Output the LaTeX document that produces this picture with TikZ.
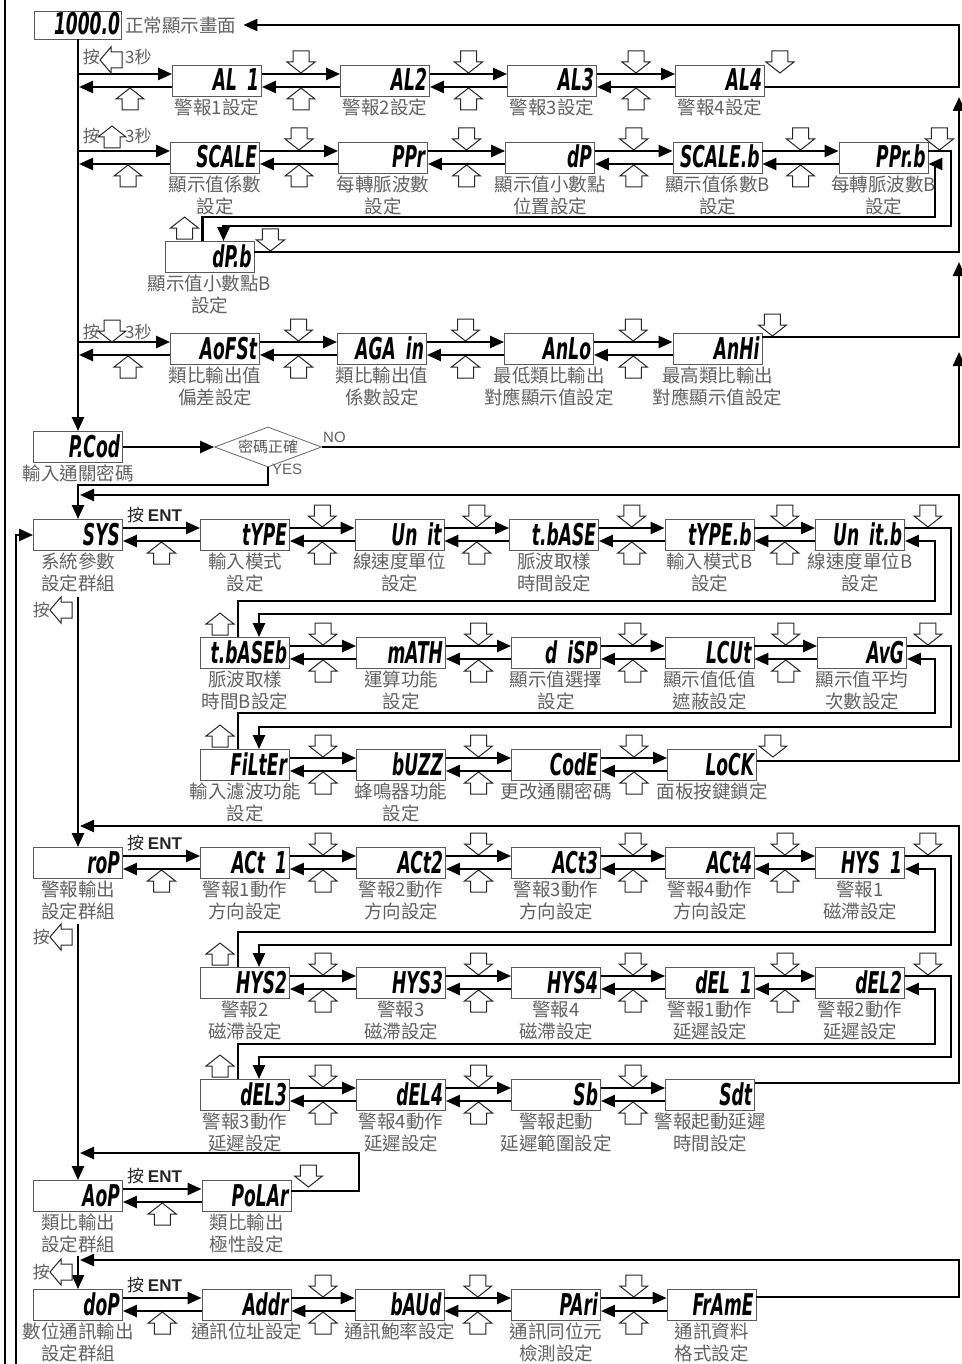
\documentclass[tikz,border=0pt]{standalone}
\usepackage{fontspec}
\setmainfont{Liberation Sans}
\newfontfamily\cjk{Noto Sans CJK TC}
\newfontfamily\lcd{DejaVu Sans}[FakeStretch=0.57]
\usetikzlibrary{arrows.meta,positioning,shapes.geometric}

\begin{document}
\begin{tikzpicture}[x=1pt, y=-1pt,
    disp/.style={draw=black!65, line width=0.9pt, fill=white, minimum width=89pt, minimum height=31pt,
      inner sep=0pt, text width=84pt, text height=20pt, text depth=0pt, align=right,
      font=\lcd\bfseries\itshape\fontsize{30}{30}\selectfont},
    lbl/.style={font=\cjk\fontsize{18.5}{22}\selectfont, text=black!62, inner sep=0pt, align=center},
    hint/.style={font=\cjk\fontsize{17}{17}\selectfont, text=black!62, inner sep=0pt},
    arr/.style={-{Triangle[length=14pt,width=12pt]}, line width=2.4pt},
    wire/.style={line width=2.4pt},
    keyshape/.style={draw=black!85, line width=1pt, fill=white, line join=miter},
    dnkey/.pic={\draw[keyshape] (-8,-22) -- (8,-22) -- (8,-11) -- (14,-11) -- (0,0) -- (-14,-11) -- (-8,-11) -- cycle;},
    upkey/.pic={\draw[keyshape] (-8,22) -- (8,22) -- (8,11) -- (14,11) -- (0,0) -- (-14,11) -- (-8,11) -- cycle;},
    ltkey/.pic={\draw[keyshape] (22,-8) -- (22,8) -- (11,8) -- (11,13) -- (0,0) -- (11,-13) -- (11,-8) -- cycle;},
  ]
  \useasboundingbox (0,0) rectangle (961,1364);

  % normal display, password check
  \node[disp, minimum width=87pt, minimum height=28pt] (main) at (78,25) {1000.0};
  \node[lbl, anchor=west] (mainlbl) at (125,25) {正常顯示畫面};
  \node[disp] (PCod) at (78,447) {P.Cod};
  \node[lbl, below=2pt of PCod] {輸入通關密碼};
  \node[draw=black!60, line width=0.8pt, diamond, aspect=2.7, minimum width=107pt, minimum height=40pt,
    inner sep=0pt, font=\cjk\fontsize{15}{15}\selectfont, text=black!65] (chk) at (268,447) {密碼正確};
  \node[hint, font=\fontsize{15}{15}\selectfont, anchor=south west] at (323,443) {NO};
  \node[hint, font=\fontsize{15}{15}\selectfont, anchor=north west] at (272,464) {YES};

  % alarm values
  \node[disp] (AL1) at (217,81) {AL 1};
  \node[disp] (AL2) at (385,81) {AL2};
  \node[disp] (AL3) at (552,81) {AL3};
  \node[disp] (AL4) at (720,81) {AL4};
  \node[lbl, below=2pt of AL1] {警報1設定};
  \node[lbl, below=2pt of AL2] {警報2設定};
  \node[lbl, below=2pt of AL3] {警報3設定};
  \node[lbl, below=2pt of AL4] {警報4設定};

  % scaling
  \node[disp] (SCALE) at (215,158) {SCALE};
  \node[disp] (PPr) at (383,158) {PPr};
  \node[disp] (dP) at (550,158) {dP};
  \node[disp] (SCALEb) at (717.5,158) {SCALE.b};
  \node[disp] (PPrb) at (883.5,158) {PPr.b};
  \node[disp] (dPb) at (209.5,257) {dP.b};
  \node[lbl, below=2pt of SCALE] {顯示值係數\\設定};
  \node[lbl, below=2pt of PPr] {每轉脈波數\\設定};
  \node[lbl, below=2pt of dP] {顯示值小數點\\位置設定};
  \node[lbl, below=2pt of SCALEb] {顯示值係數B\\設定};
  \node[lbl, below=2pt of PPrb] {每轉脈波數B\\設定};
  \node[lbl, below=2pt of dPb] {顯示值小數點B\\設定};

  % analog output
  \node[disp] (AoFSt) at (215,349) {AoFSt};
  \node[disp] (AGAin) at (382,349) {AGA in};
  \node[disp] (AnLo) at (549,349) {AnLo};
  \node[disp] (AnHi) at (717.5,349) {AnHi};
  \node[lbl, below=2pt of AoFSt] {類比輸出值\\偏差設定};
  \node[lbl, below=2pt of AGAin] {類比輸出值\\係數設定};
  \node[lbl, below=2pt of AnLo] {最低類比輸出\\對應顯示值設定};
  \node[lbl, below=2pt of AnHi] {最高類比輸出\\對應顯示值設定};

  % system group
  \node[disp] (SYS) at (78,535) {SYS};
  \node[disp] (tYPE) at (245,535) {tYPE};
  \node[disp] (Unit) at (399.5,535) {Un it};
  \node[disp] (tBASE) at (554,535) {t.bASE};
  \node[disp] (tYPEb) at (709.5,535) {tYPE.b};
  \node[disp] (Unitb) at (860,535) {Un it.b};
  \node[lbl, below=2pt of SYS] {系統參數\\設定群組};
  \node[lbl, below=2pt of tYPE] {輸入模式\\設定};
  \node[lbl, below=2pt of Unit] {線速度單位\\設定};
  \node[lbl, below=2pt of tBASE] {脈波取樣\\時間設定};
  \node[lbl, below=2pt of tYPEb] {輸入模式B\\設定};
  \node[lbl, below=2pt of Unitb] {線速度單位B\\設定};

  \node[disp] (tBASEb) at (245,653) {t.bASEb};
  \node[disp] (mATH) at (401,653) {mATH};
  \node[disp] (dISP) at (556,653) {d iSP};
  \node[disp] (LCUt) at (709.5,653) {LCUt};
  \node[disp] (AvG) at (862,653) {AvG};
  \node[lbl, below=2pt of tBASEb] {脈波取樣\\時間B設定};
  \node[lbl, below=2pt of mATH] {運算功能\\設定};
  \node[lbl, below=2pt of dISP] {顯示值選擇\\設定};
  \node[lbl, below=2pt of LCUt] {顯示值低值\\遮蔽設定};
  \node[lbl, below=2pt of AvG] {顯示值平均\\次數設定};

  \node[disp] (FiLtEr) at (245,765) {FiLtEr};
  \node[disp] (bUZZ) at (401,765) {bUZZ};
  \node[disp] (CodE) at (556,765) {CodE};
  \node[disp] (LoCK) at (712,765) {LoCK};
  \node[lbl, below=2pt of FiLtEr] {輸入濾波功能\\設定};
  \node[lbl, below=2pt of bUZZ] {蜂鳴器功能\\設定};
  \node[lbl, below=2pt of CodE] {更改通關密碼};
  \node[lbl, below=2pt of LoCK] {面板按鍵鎖定};

  % relay output group
  \node[disp] (roP) at (78,863) {roP};
  \node[disp] (ACt1) at (245,863) {ACt 1};
  \node[disp] (ACt2) at (401,863) {ACt2};
  \node[disp] (ACt3) at (556,863) {ACt3};
  \node[disp] (ACt4) at (710,863) {ACt4};
  \node[disp] (HYS1) at (860,863) {HYS 1};
  \node[lbl, below=2pt of roP] {警報輸出\\設定群組};
  \node[lbl, below=2pt of ACt1] {警報1動作\\方向設定};
  \node[lbl, below=2pt of ACt2] {警報2動作\\方向設定};
  \node[lbl, below=2pt of ACt3] {警報3動作\\方向設定};
  \node[lbl, below=2pt of ACt4] {警報4動作\\方向設定};
  \node[lbl, below=2pt of HYS1] {警報1\\磁滯設定};

  \node[disp] (HYS2) at (245,983) {HYS2};
  \node[disp] (HYS3) at (401,983) {HYS3};
  \node[disp] (HYS4) at (556,983) {HYS4};
  \node[disp] (dEL1) at (710,983) {dEL 1};
  \node[disp] (dEL2) at (860,983) {dEL2};
  \node[lbl, below=2pt of HYS2] {警報2\\磁滯設定};
  \node[lbl, below=2pt of HYS3] {警報3\\磁滯設定};
  \node[lbl, below=2pt of HYS4] {警報4\\磁滯設定};
  \node[lbl, below=2pt of dEL1] {警報1動作\\延遲設定};
  \node[lbl, below=2pt of dEL2] {警報2動作\\延遲設定};

  \node[disp] (dEL3) at (245,1095) {dEL3};
  \node[disp] (dEL4) at (401,1095) {dEL4};
  \node[disp] (Sb) at (556,1095) {Sb};
  \node[disp] (Sdt) at (710,1095) {Sdt};
  \node[lbl, below=2pt of dEL3] {警報3動作\\延遲設定};
  \node[lbl, below=2pt of dEL4] {警報4動作\\延遲設定};
  \node[lbl, below=2pt of Sb] {警報起動\\延遲範圍設定};
  \node[lbl, below=2pt of Sdt] {警報起動延遲\\時間設定};

  % analog and digital output groups
  \node[disp] (AoP) at (78,1196) {AoP};
  \node[disp] (PoLAr) at (246.5,1196) {PoLAr};
  \node[lbl, below=2pt of AoP] {類比輸出\\設定群組};
  \node[lbl, below=2pt of PoLAr] {類比輸出\\極性設定};

  \node[disp] (doP) at (78,1305) {doP};
  \node[disp] (Addr) at (246.5,1305) {Addr};
  \node[disp] (bAUd) at (399.5,1305) {bAUd};
  \node[disp] (PAri) at (556,1305) {PAri};
  \node[disp] (FrAmE) at (711.5,1305) {FrAmE};
  \node[lbl, below=2pt of doP] {數位通訊輸出\\設定群組};
  \node[lbl, below=2pt of Addr] {通訊位址設定};
  \node[lbl, below=2pt of bAUd] {通訊鮑率設定};
  \node[lbl, below=2pt of PAri] {通訊同位元\\檢測設定};
  \node[lbl, below=2pt of FrAmE] {通訊資料\\格式設定};

  % free ends of the return lines
  \coordinate (bus0) at (959,25);
  \coordinate (bus1) at (959,97);
  \coordinate (bus2) at (959,262);
  \coordinate (bus3) at (959,352);
  \coordinate (bus4) at (959,495);
  \coordinate (bus5) at (959,826);
  \coordinate (bus6) at (959,1260);
  \coordinate (jY) at (78,485);
  \coordinate (jD) at (80,495);
  \coordinate (jS) at (78,597);
  \coordinate (jE) at (80,826);
  \coordinate (jR) at (78,924);
  \coordinate (jF) at (80,1153);
  \coordinate (jA) at (78,1256);
  \coordinate (jG) at (80,1260);
  \coordinate (cP) at (359,1153);
  \coordinate (lt) at (5,0);
  \coordinate (lb) at (5,1364);
  \coordinate (lb2) at (16,1364);

  % spine
  \draw[arr] (main.south) -- (PCod.north);
  \draw[arr] (PCod.east) -- (chk.west);
  \draw[arr] (chk.south) |- (jY) -- (SYS.north);
  \draw[arr] (jS) -- (roP.north);
  \draw[arr] (jR) -- (AoP.north);
  \draw[arr] (jA) -- (doP.north);
  \draw[wire] (lt) -- (lb);
  \draw[arr] (lb2) |- (SYS.west);

  % hold keys on the spine
  \foreach \b in {AL1, SCALE, AoFSt}{
    \draw[arr] ([yshift=7pt]main |- \b) -- ([yshift=7pt]\b.west);
    \draw[arr] ([yshift=-6pt]\b.west) -- ([yshift=-6pt,xshift=1pt]main |- \b);
    \pic at ([xshift=-42pt,yshift=-7pt]\b.west) {upkey};
  }
  \node[hint, anchor=east] at (100,57) {按};
  \pic at (100,60) {ltkey};
  \node[hint, anchor=west] at (125,57) {3秒};
  \node[hint, anchor=east] at (100,136) {按};
  \pic at (112,126) {upkey};
  \node[hint, anchor=west] at (125,136) {3秒};
  \node[hint, anchor=east] at (100,332) {按};
  \pic at (112,342) {dnkey};
  \node[hint, anchor=west] at (125,332) {3秒};
  \node[hint, anchor=east] at (50,610) {按};
  \pic at (50,610) {ltkey};
  \node[hint, anchor=east] at (50,937) {按};
  \pic at (50,937) {ltkey};
  \node[hint, anchor=east] at (50,1272) {按};
  \pic at (50,1272) {ltkey};

  % group entries
  \foreach \a/\b in {SYS/tYPE, roP/ACt1, AoP/PoLAr, doP/Addr}{
    \draw[arr] ([yshift=7pt]\a.east) -- ([yshift=7pt]\b.west);
    \draw[arr] ([yshift=-6pt]\b.west) -- ([yshift=-6pt]\a.east);
    \path (\a.east) -- coordinate[midway] (k) (\b.west);
    \pic at ([yshift=-7pt]k) {upkey};
    \node[hint, text=black!85, anchor=south west] at ([xshift=4pt,yshift=12pt]\a.east) {按 {\rmfamily\bfseries ENT}};
  }

  % up/down steps
  \foreach \a/\b in {AL1/AL2, AL2/AL3, AL3/AL4, SCALE/PPr, PPr/dP, dP/SCALEb, SCALEb/PPrb,
      AoFSt/AGAin, AGAin/AnLo, AnLo/AnHi, tYPE/Unit, Unit/tBASE, tBASE/tYPEb, tYPEb/Unitb,
      tBASEb/mATH, mATH/dISP, dISP/LCUt, LCUt/AvG, FiLtEr/bUZZ, bUZZ/CodE, CodE/LoCK,
      ACt1/ACt2, ACt2/ACt3, ACt3/ACt4, ACt4/HYS1, HYS2/HYS3, HYS3/HYS4, HYS4/dEL1, dEL1/dEL2,
      dEL3/dEL4, dEL4/Sb, Sb/Sdt, Addr/bAUd, bAUd/PAri, PAri/FrAmE}{
    \draw[arr] ([yshift=7pt]\a.east) -- ([yshift=7pt]\b.west);
    \draw[arr] ([yshift=-6pt]\b.west) -- ([yshift=-6pt]\a.east);
    \path (\a.east) -- coordinate[midway] (k) (\b.west);
    \pic at ([yshift=8pt]k) {dnkey};
    \pic at ([yshift=-7pt]k) {upkey};
  }

  % wrap to the next line of a group
  \foreach \a/\b/\yo/\yi in {PPrb/dPb/226/217, Unitb/tBASEb/614/601, AvG/FiLtEr/727/713,
      HYS1/HYS2/945/932, dEL2/dEL3/1057/1044}{
    \draw[arr] ([yshift=7pt]\a.east) -| (951,\yo) -| ([xshift=14pt]\b.north);
    \draw[arr] ([xshift=-7pt]\b.north) |- (935,\yi) |- ([yshift=-6pt]\a.east);
    \pic at ([xshift=-25pt,yshift=24pt]\b.north) {upkey};
  }
  \pic at ([xshift=11pt,yshift=8pt]PPrb.east) {dnkey};
  \pic at ([xshift=23pt,yshift=8pt]Unitb.east) {dnkey};
  \pic at ([xshift=21pt,yshift=8pt]AvG.east) {dnkey};
  \pic at ([xshift=23pt,yshift=8pt]HYS1.east) {dnkey};
  \pic at ([xshift=23pt,yshift=8pt]dEL2.east) {dnkey};

  % returns along the right edge
  \draw[arr] ([yshift=-6pt]AL4.east) -| (bus0) -- ([xshift=7pt]mainlbl.east);
  \pic at ([xshift=15pt,yshift=8pt]AL4.east) {dnkey};
  \draw[arr] ([yshift=5pt]dPb.east) -| (bus1);
  \pic at ([xshift=16pt,yshift=6pt]dPb.east) {dnkey};
  \draw[arr] ([yshift=12pt]AnHi.east) -| (bus2);
  \pic at ([xshift=10pt,yshift=13pt]AnHi.east) {dnkey};
  \draw[arr] (chk.east) -| (bus3);
  \draw[arr] ([yshift=4pt]LoCK.east) -| (bus4) -- (jD);
  \pic at ([xshift=16pt,yshift=8pt]LoCK.east) {dnkey};
  \draw[arr] ([yshift=12pt]Sdt.east) -| (bus5) -- (jE);
  \draw[arr] ([yshift=5pt]PoLAr.east) -| (cP) -- (jF);
  \pic at ([xshift=17pt,yshift=9pt]PoLAr.east) {dnkey};
  \draw[arr] ([yshift=8pt]FrAmE.east) -| (bus6) -- (jG);
\end{tikzpicture}
\end{document}
